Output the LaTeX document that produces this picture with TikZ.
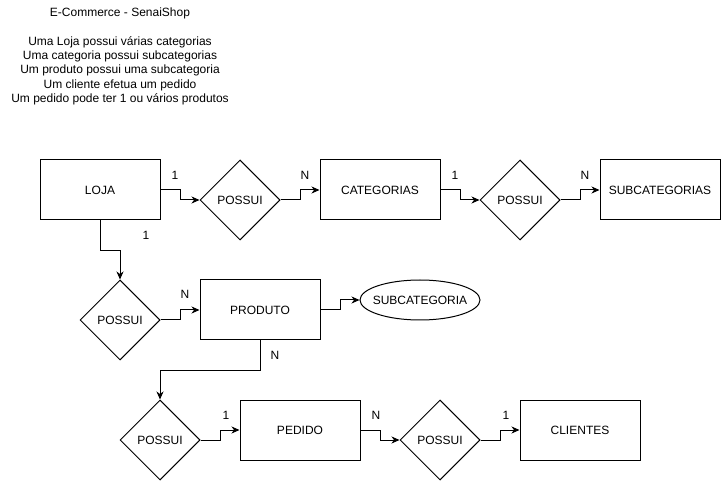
\documentclass[tikz,border=0pt]{standalone}
\usepackage{fontspec}
\setmainfont{Liberation Sans}
\usepackage{tikz}
\usetikzlibrary{arrows.meta}
\usetikzlibrary{shapes.geometric}

\tikzset{
  entity/.style={draw, line width=1pt, fill=white, minimum width=120pt, minimum height=60pt, inner sep=0pt},
  relation/.style={draw, line width=1pt, fill=white, diamond, aspect=1, minimum width=80pt, minimum height=80pt, inner sep=0pt},
  attrib/.style={draw, line width=1pt, fill=white, ellipse, minimum width=120pt, minimum height=40pt, inner sep=0pt},
  link/.style={line width=1pt, -{Stealth[length=8pt, width=7pt, inset=2.5pt]}},
  card/.style={inner sep=0pt}
}

\begin{document}
\begin{tikzpicture}[x=1pt, y=-1pt, font=\fontsize{12}{14.4}\selectfont]
\useasboundingbox[fill=white] (0,0) rectangle (721,481);

% Title and rules
\node[align=center, inner sep=0pt, anchor=north] (title) at (120,7.5)
  {E-Commerce - SenaiShop\\[14.4pt]
   Uma Loja possui várias categorias\\
   Uma categoria possui subcategorias\\
   Um produto possui uma subcategoria\\
   Um cliente efetua um pedido\\
   Um pedido pode ter 1 ou vários produtos};

% Entities
\node[entity] (loja) at (100,190) {LOJA};
\node[entity] (categorias) at (380,190) {CATEGORIAS};
\node[entity] (subcategorias) at (660,190) {SUBCATEGORIAS};
\node[entity] (produto) at (260,310) {PRODUTO};
\node[entity] (pedido) at (300,430) {PEDIDO};
\node[entity] (clientes) at (580,430) {CLIENTES};

% Attribute (zero-width box keeps the ellipse at 120x40)
\node[attrib] (subcategoria) at (420,300) {\makebox[0pt]{SUBCATEGORIA}};

% Relations
\node[relation] (possuiA) at (240,200) {POSSUI};
\node[relation] (possuiB) at (520,200) {POSSUI};
\node[relation] (possuiC) at (120,320) {POSSUI};
\node[relation] (possuiD) at (160,440) {POSSUI};
\node[relation] (possuiE) at (440,440) {POSSUI};

% Connectors
\draw[link] (loja.east) -- ++(20,0) |- (possuiA.west);
\draw[link] (possuiA.east) -- ++(20,0) |- (categorias.west);
\draw[link] (categorias.east) -- ++(20,0) |- (possuiB.west);
\draw[link] (possuiB.east) -- ++(20,0) |- (subcategorias.west);
\draw[link] (loja.south) -- ++(0,30) -| (possuiC.north);
\draw[link] (possuiC.east) -- ++(20,0) |- (produto.west);
\draw[link] (produto.east) -- ++(20,0) |- (subcategoria.west);
\draw[link] (produto.south) -- ++(0,30) -| (possuiD.north);
\draw[link] (possuiD.east) -- ++(20,0) |- (pedido.west);
\draw[link] (pedido.east) -- ++(20,0) |- (possuiE.west);
\draw[link] (possuiE.east) -- ++(20,0) |- (clientes.west);

% Cardinalities
\node[card] (c1) at (175,175) {1};
\node[card] (c2) at (305,175) {N};
\node[card] (c3) at (455,175) {1};
\node[card] (c4) at (585,175) {N};
\node[card] (c5) at (146,235) {1};
\node[card] (c6) at (185,294) {N};
\node[card] (c7) at (275,355) {N};
\node[card] (c8) at (226,415) {1};
\node[card] (c9) at (376,415) {N};
\node[card] (c10) at (506,415) {1};
\end{tikzpicture}
\end{document}
